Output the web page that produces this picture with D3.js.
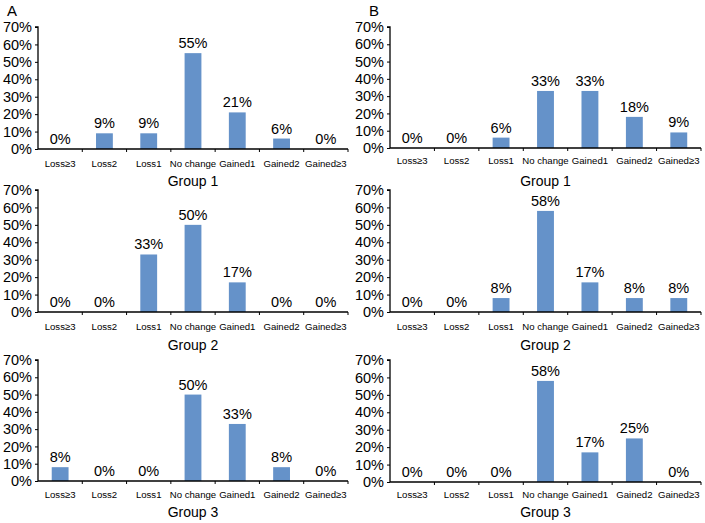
<!DOCTYPE html>
<html>
<head>
<meta charset="utf-8">
<script src="https://cdn.jsdelivr.net/npm/d3@7"></script>
<style>
  html, body { margin: 0; padding: 0; background: #fff; }
  svg { display: block; }
  text { font-family: "Liberation Sans", Arial, sans-serif; fill: #000; }
</style>
</head>
<body>
<svg id="chart" width="705" height="523"></svg>
<script>
// ---- Data ----
const categories = ["Loss≥3", "Loss2", "Loss1", "No change", "Gained1", "Gained2", "Gained≥3"];
const yTicks = [0, 10, 20, 30, 40, 50, 60, 70];
const groupNames = ["Group 1", "Group 2", "Group 3"];
const panelLetters = ["A", "B"];
const A_group1 = [0, 9, 9, 55, 21, 6, 0];
const A_group2 = [0, 0, 33, 50, 17, 0, 0];
const A_group3 = [8, 0, 0, 50, 33, 8, 0];
const B_group1 = [0, 0, 6, 33, 33, 18, 9];
const B_group2 = [0, 0, 8, 58, 17, 8, 8];
const B_group3 = [0, 0, 0, 58, 17, 25, 0];

// ---- Layout ----
const barColor = "#6592C9";
const svg = d3.select("#chart");

const panels = [
  {values: A_group1, group: groupNames[0], x0: 38,  x1: 348, top: 27,  bot: 149, labY: 167, grpY: 186},
  {values: A_group2, group: groupNames[1], x0: 38,  x1: 348, top: 190, bot: 312, labY: 330, grpY: 350},
  {values: A_group3, group: groupNames[2], x0: 38,  x1: 348, top: 360, bot: 481, labY: 498, grpY: 517},
  {values: B_group1, group: groupNames[0], x0: 390, x1: 701, top: 27,  bot: 148, labY: 164, grpY: 186},
  {values: B_group2, group: groupNames[1], x0: 390, x1: 701, top: 190, bot: 312, labY: 330, grpY: 350},
  {values: B_group3, group: groupNames[2], x0: 390, x1: 701, top: 360, bot: 482, labY: 498, grpY: 517}
];

panels.forEach(p => {
  const g = svg.append("g");
  const x = d3.scaleBand().domain(categories).range([p.x0, p.x1]).paddingInner(0.62).paddingOuter(0.31);
  const y = d3.scaleLinear().domain([0, 70]).range([p.bot, p.top]);

  // bars
  g.selectAll("rect.bar").data(p.values).enter().append("rect")
    .attr("class", "bar")
    .attr("x", (d, i) => x(categories[i]))
    .attr("width", x.bandwidth())
    .attr("y", d => y(d))
    .attr("height", d => y(0) - y(d))
    .attr("fill", barColor);

  // value labels
  g.selectAll("text.val").data(p.values).enter().append("text")
    .attr("class", "val")
    .attr("x", (d, i) => x(categories[i]) + x.bandwidth() / 2)
    .attr("y", d => y(d) - 5)
    .attr("text-anchor", "middle")
    .attr("font-size", "14.5px")
    .text(d => d + "%");

  // y axis
  const yAxis = d3.axisLeft(y).tickValues(yTicks).tickFormat(d => d + "%").tickSize(3).tickPadding(3);
  const ya = g.append("g").attr("transform", `translate(${p.x0},0)`).call(yAxis);
  ya.select(".domain").attr("stroke", "#000").attr("stroke-width", 1.3).attr("d", `M-3,${p.top}H0V${p.bot}`);
  ya.selectAll(".tick line").attr("stroke", "#000");
  ya.selectAll(".tick text").attr("font-size", "14.5px").attr("font-family", "Liberation Sans, Arial, sans-serif").attr("fill", "#000");

  // x axis
  const xa = g.append("g").attr("transform", `translate(0,${p.bot})`);
  xa.append("line").attr("x1", p.x0).attr("x2", p.x1).attr("stroke", "#000").attr("stroke-width", 1.3);
  d3.range(1, categories.length + 1).forEach(i => {
    const bx = p.x0 + i * (p.x1 - p.x0) / categories.length;
    xa.append("line").attr("x1", bx).attr("x2", bx).attr("y1", 0).attr("y2", 3).attr("stroke", "#000");
  });
  xa.selectAll("text.cat").data(categories).enter().append("text")
    .attr("class", "cat")
    .attr("x", d => x(d) + x.bandwidth() / 2)
    .attr("y", p.labY - p.bot)
    .attr("text-anchor", "middle")
    .attr("font-size", "9.6px")
    .text(d => d);

  // group title
  g.append("text")
    .attr("x", x("No change") + x.bandwidth() / 2)
    .attr("y", p.grpY)
    .attr("text-anchor", "middle")
    .attr("font-size", "14px")
    .text(p.group);
});

// panel letters
svg.append("text").attr("x", 7).attr("y", 15.5).attr("font-size", "15px")
  .attr("font-family", "DejaVu Sans Condensed, Liberation Sans Narrow, sans-serif").text(panelLetters[0]);
svg.append("text").attr("x", 369).attr("y", 15.5).attr("font-size", "15px")
  .attr("font-family", "DejaVu Sans Condensed, Liberation Sans Narrow, sans-serif").text(panelLetters[1]);
</script>
</body>
</html>
